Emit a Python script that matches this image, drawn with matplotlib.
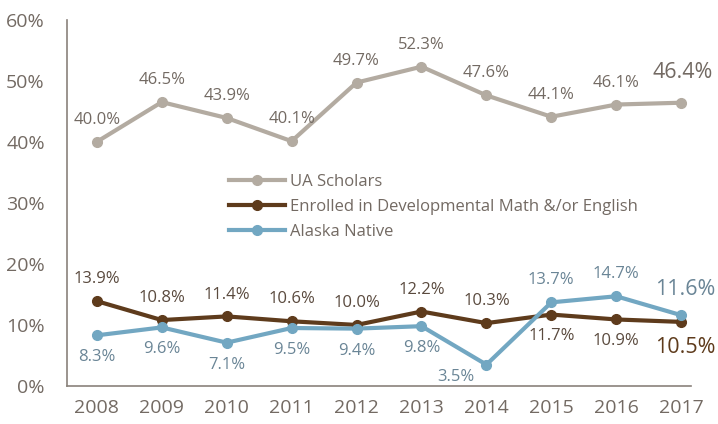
import numpy as np
import matplotlib
matplotlib.use("Agg")
import matplotlib.pyplot as plt
from matplotlib.ticker import FuncFormatter

years = [2008, 2009, 2010, 2011, 2012, 2013, 2014, 2015, 2016, 2017]
scholars = [40.0, 46.5, 43.9, 40.1, 49.7, 52.3, 47.6, 44.1, 46.1, 46.4]
devel = [13.9, 10.8, 11.4, 10.6, 10.0, 12.2, 10.3, 11.7, 10.9, 10.5]
native = [8.3, 9.6, 7.1, 9.5, 9.4, 9.8, 3.5, 13.7, 14.7, 11.6]

# label above (1) or below (-1) for each series
devel_pos = [1, 1, 1, 1, 1, 1, 1, -1, -1, -1]
native_pos = [-1, -1, -1, -1, -1, -1, -1, 1, 1, 1]

c_sch = "#b3aba1"
c_dev = "#5e3b1c"
c_nat = "#72a7c2"
c_txt = "#736a63"
c_ntxt = "#6a8596"

plt.rcParams['font.family'] = ['Open Sans', 'DejaVu Sans']

fig = plt.figure(figsize=(7.18, 4.24), dpi=100)
ax = fig.add_axes([0.0933, 0.0896, 0.869, 0.864])

ax.plot(years, scholars, color=c_sch, lw=3, marker='o', ms=7, label="UA Scholars")
ax.plot(years, devel, color=c_dev, lw=3, marker='o', ms=7,
        label="Enrolled in Developmental Math &/or English")
ax.plot(years, native, color=c_nat, lw=3, marker='o', ms=7, label="Alaska Native")

lab = 12
bigsz = 15.5

for i, (x, v) in enumerate(zip(years, scholars)):
    big = i == len(years) - 1
    ax.annotate(f"{v:.1f}%", (x, v), xytext=(1 if big else 0, 14 if big else 10),
                textcoords='offset points', ha='center', va='bottom',
                fontsize=bigsz if big else lab, color=c_txt)

for i, (x, v) in enumerate(zip(years, devel)):
    big = i == len(years) - 1
    up = devel_pos[i] > 0
    ax.annotate(f"{v:.1f}%", (x, v), xytext=(3 if big else 0, (10 if up else -10) if not big else -11),
                textcoords='offset points', ha='center', va='bottom' if up else 'top',
                fontsize=bigsz if big else lab, color=c_dev if big else "#5a4a3e")

for i, (x, v) in enumerate(zip(years, native)):
    big = i == len(years) - 1
    up = native_pos[i] > 0
    dx, dy = 0, (10 if up else -10)
    if big:
        dx, dy = 3, 11
    if x == 2014:
        dx, dy = -22, -3
    ax.annotate(f"{v:.1f}%", (x, v), xytext=(dx, dy),
                textcoords='offset points', ha='center', va='bottom' if up else 'top',
                fontsize=bigsz if big else lab, color=c_ntxt)

ax.set_xlim(2007.54, 2017.15)
ax.set_ylim(0, 60)
ax.set_xticks(years)
ax.set_yticks(range(0, 61, 10))
ax.yaxis.set_major_formatter(FuncFormatter(lambda v, p: f"{v:.0f}%"))
ax.tick_params(length=0, labelsize=14, colors=c_txt, pad=9)
ax.tick_params(axis='y', pad=16)
for s in ['top', 'right']:
    ax.spines[s].set_visible(False)
for s in ['left', 'bottom']:
    ax.spines[s].set_color("#8a827b")
    ax.spines[s].set_linewidth(1.2)

leg = ax.legend(loc='upper left', bbox_to_anchor=(0.235, 0.62), frameon=False,
                fontsize=12, handlelength=3.4, labelspacing=0.55, handletextpad=0.3)
for t in leg.get_texts():
    t.set_color(c_txt)

fig.savefig("out.png", dpi=100)
